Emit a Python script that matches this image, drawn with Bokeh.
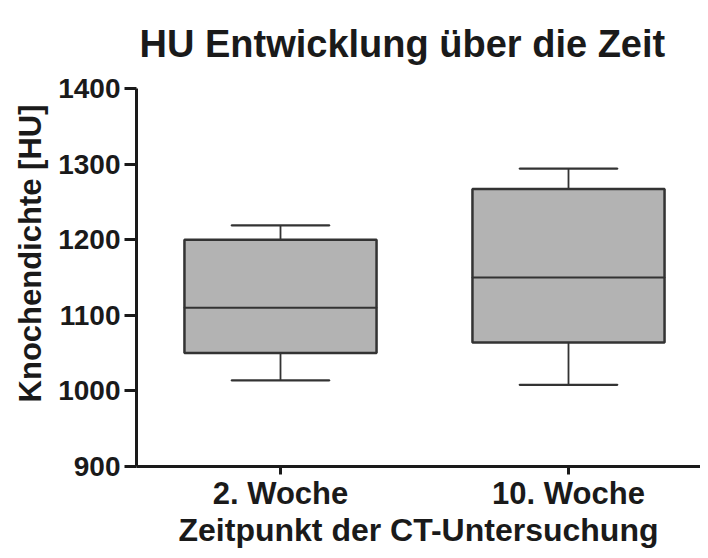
from bokeh.plotting import figure
from bokeh.models import Range1d, FixedTicker, ColumnDataSource, Title
from bokeh.embed import file_html
from bokeh.resources import INLINE

categories = ["2. Woche", "10. Woche"]
whisker_low = [1014, 1008]
q1 = [1050, 1064]
median = [1110, 1150]
q3 = [1200, 1267]
whisker_high = [1219, 1294]
y_ticks = [900, 1000, 1100, 1200, 1300, 1400]

FONT = "Liberation Sans"
DARK = "#1a1a1a"
BOX_LINE = "#333333"

xpos = [i + 1 for i in range(len(categories))]
src = ColumnDataSource(dict(x=xpos, lo=whisker_low, q1=q1, med=median,
                            q3=q3, hi=whisker_high))

W, H = 700, 550
LEFT, TOP, BOTTOM = 136, 87, 80
PX_PER_X = 288.0
x0 = 0.5
p = figure(width=W, height=H, output_backend="svg", toolbar_location=None,
           x_range=Range1d(x0, x0 + (W - LEFT) / PX_PER_X),
           y_range=Range1d(900, 1400),
           min_border_left=LEFT, min_border_right=0, min_border_top=TOP,
           min_border_bottom=BOTTOM)

# whiskers (vertical)
p.segment(x0="x", y0="q3", x1="x", y1="hi", source=src, line_color=BOX_LINE, line_width=1.8)
p.segment(x0="x", y0="lo", x1="x", y1="q1", source=src, line_color=BOX_LINE, line_width=1.8)
# caps
p.rect(x="x", y="hi", width=0.34, height=0.01, source=src, line_color=BOX_LINE,
       line_width=2.2, fill_alpha=0, height_units="screen")
p.rect(x="x", y="lo", width=0.34, height=0.01, source=src, line_color=BOX_LINE,
       line_width=2.2, fill_alpha=0, height_units="screen")
# boxes
p.vbar(x="x", bottom="q1", top="q3", width=0.667, source=src, fill_color="#b3b3b3",
       line_color=BOX_LINE, line_width=2.5)
# median
p.rect(x="x", y="med", width=0.667, height=0.01, source=src, line_color=BOX_LINE,
       line_width=2.2, fill_alpha=0, height_units="screen")

p.title.text = "HU Entwicklung über die Zeit"
p.title.text_font = FONT
p.title.text_font_size = "38px"
p.title.text_font_style = "bold"
p.title.text_color = DARK
p.title.align = "left"
p.title.offset = 3
p.title.vertical_align = "top"
p.title.standoff = 44

p.xgrid.visible = False
p.ygrid.visible = False
p.outline_line_color = None

for ax in (p.xaxis[0], p.yaxis[0]):
    ax.axis_line_color = DARK
    ax.axis_line_width = 3
    ax.major_tick_line_color = DARK
    ax.major_tick_line_width = 3
    ax.major_tick_in = 0
    ax.minor_tick_line_color = None
    ax.major_label_text_font = FONT
    ax.major_label_text_font_style = "bold"
    ax.major_label_text_color = DARK
    ax.axis_label_text_font = FONT
    ax.axis_label_text_font_style = "bold"
    ax.axis_label_text_color = DARK

p.yaxis.ticker = FixedTicker(ticks=y_ticks)
p.yaxis.major_label_text_font_size = "28px"
p.yaxis.major_tick_out = 12
p.yaxis.major_label_standoff = 4

p.xaxis.ticker = FixedTicker(ticks=xpos)
p.xaxis.major_label_overrides = {x: c for x, c in zip(xpos, categories)}
p.xaxis.major_label_text_font_size = "31px"
p.xaxis.major_tick_out = 8
p.xaxis.major_label_standoff = 1
p.xaxis.axis_label = "Zeitpunkt der CT-Untersuchung"
p.xaxis.axis_label_text_font_size = "32px"
p.xaxis.axis_label_standoff = -2

ylab = Title(text="Knochendichte [HU]", align="right", offset=16, standoff=15,
             text_font=FONT, text_font_size="31px", text_font_style="bold",
             text_color=DARK)
p.add_layout(ylab, "left")

open("out.html", "w").write(file_html(p, INLINE))
